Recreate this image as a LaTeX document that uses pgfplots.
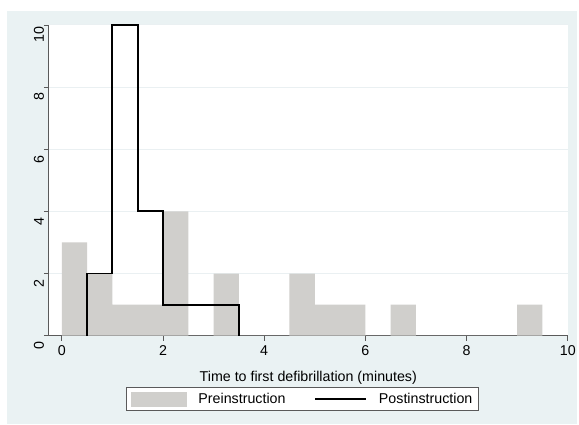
\documentclass[border=0pt]{standalone}
\usepackage{fontspec}
\setmainfont{Liberation Sans}
\usepackage{pgfplots}
\pgfplotsset{compat=1.18}
\definecolor{bgblue}{RGB}{234,242,243}
\definecolor{bargray}{RGB}{208,207,204}
\definecolor{axgray}{RGB}{90,90,90}
\definecolor{gridc}{RGB}{234,240,242}
\newcommand{\ff}{\fontsize{14.3bp}{17bp}\selectfont}
\begin{document}
\begin{tikzpicture}[x=1bp,y=1bp]
\fill[white] (0,0) rectangle (579,426);
\fill[bgblue] (7,0) rectangle (579,415);
\begin{axis}[
  at={(49bp,89bp)}, anchor=south west, scale only axis,
  width=521bp, height=312bp,
  xmin=-0.256, xmax=10, ymin=0, ymax=10,
  clip=false,
  axis x line=bottom, axis y line=left,
  axis line style={-, axgray, line width=0.8bp},
  axis background/.style={fill=white},
  xtick={0,2,...,10}, ytick={0,2,...,10},
  tick align=outside, major tick length=5bp,
  tick style={axgray, line width=0.8bp},
  ymajorgrids, grid style={gridc, line width=1bp},
  /pgf/number format/assume math mode=true,
  tick label style={font=\ff},
  xticklabel style={yshift=-1.5bp},
  yticklabel style={rotate=90, anchor=base, xshift=-10bp},
  xlabel={Time to first defibrillation (minutes)},
  xlabel style={font=\ff, at={(axis description cs:0.5,0)}, anchor=base, yshift=-46bp},
  legend columns=2,
  legend cell align=left,
  legend style={at={(0.489,0)}, anchor=north, yshift=-52bp,
    draw=axgray, fill=white, line width=0.6bp, font=\ff,
    inner xsep=4bp, inner ysep=3.5bp,
    /tikz/every even column/.append style={column sep=27bp},
    /tikz/every odd column/.append style={column sep=10bp}},
]
\addplot[ybar interval, fill=bargray, draw=none,
  legend image code/.code={\fill[bargray] (0bp,-7.5bp) rectangle (56bp,7.5bp);}]
  coordinates {
  (0,3) (0.5,2) (1,1) (1.5,1) (2,4) (2.5,0) (3,2) (3.5,0) (4,0) (4.5,2)
  (5,1) (5.5,1) (6,0) (6.5,1) (7,0) (7.5,0) (8,0) (8.5,0) (9,1) (9.5,0)
  };
\addlegendentry{Preinstruction}
\addplot[const plot, black, line width=1.8bp, mark=none,
  legend image code/.code={\draw[black, line width=1.8bp] (0bp,0bp) -- (51bp,0bp);}]
  coordinates {
  (0.5,0) (0.5,2) (1,10) (1.5,4) (2,1) (3.5,0)
  };
\addlegendentry{Postinstruction}
\end{axis}
\end{tikzpicture}
\end{document}
